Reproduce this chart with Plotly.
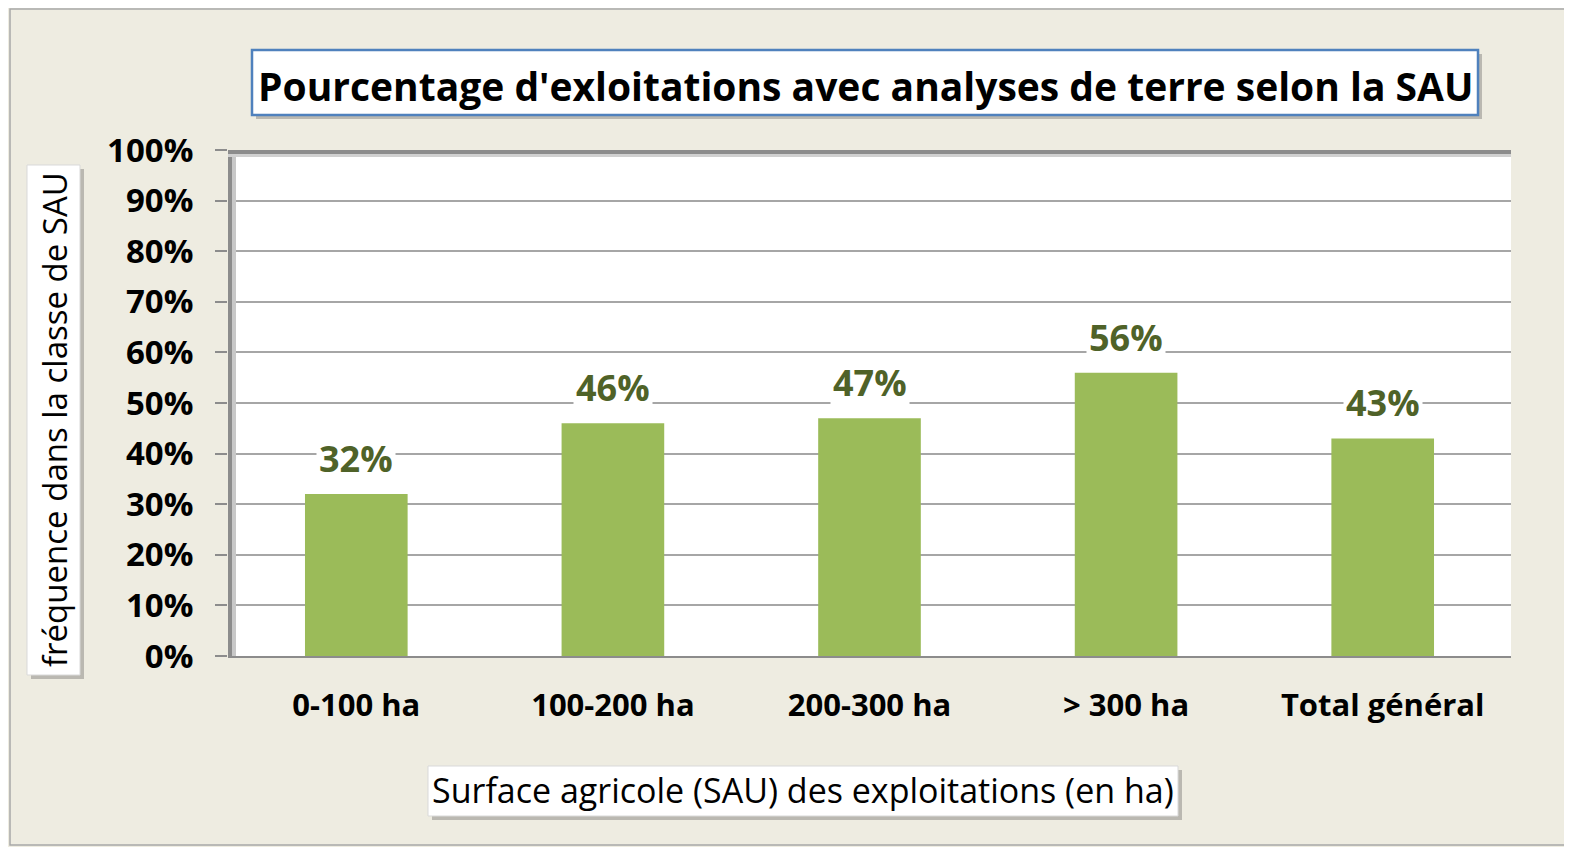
import plotly.graph_objects as go

categories = ["0-100 ha", "100-200 ha", "200-300 ha", "> 300 ha", "Total général"]
values = [32, 46, 47, 56, 43]
labels = ["32%", "46%", "47%", "56%", "43%"]

# page body has an 8px margin; work in figure pixels (screen - 8)
OFF = 8
W, H = 1562, 839
L, R, T, B = 228 - OFF, 1511 - OFF, 150 - OFF, 656 - OFF


def fx(px):
    return (px - OFF - L) / (R - L)


def fy(py):
    return (B - (py - OFF)) / (B - T)


FONT = "Open Sans"
fig = go.Figure()
fig.add_trace(go.Bar(x=categories, y=values, width=0.4, marker=dict(color="#9BBB59", line=dict(width=0)),
                     hoverinfo="skip"))

shapes = []
# outer border
shapes.append(dict(type="rect", xref="paper", yref="paper", x0=fx(10), x1=fx(1567), y0=fy(9), y1=fy(845),
                   line=dict(color="#A8A8A8", width=1.5), fillcolor="rgba(0,0,0,0)", layer="below"))


def box(x0, y0, x1, y1, border=None):
    shapes.append(dict(type="rect", xref="paper", yref="paper", x0=fx(x0 + 4), x1=fx(x1 + 4), y0=fy(y0 + 4),
                       y1=fy(y1 + 4), line=dict(width=0), fillcolor="rgba(90,90,90,0.35)", layer="above"))
    shapes.append(dict(type="rect", xref="paper", yref="paper", x0=fx(x0), x1=fx(x1), y0=fy(y0), y1=fy(y1),
                       line=dict(color=border if border else "#D9D9D9", width=2.5 if border else 1),
                       fillcolor="white", layer="above"))


box(252, 50, 1478, 115, "#4F81BD")
box(27, 165, 80, 675)
box(428, 766, 1178, 816)

# 3D wall effects: left wall and top shadow
shapes.append(dict(type="rect", xref="paper", yref="paper", x0=fx(228), x1=fx(232), y0=0, y1=1,
                   line=dict(width=0), fillcolor="#8C8C8C", layer="above"))
shapes.append(dict(type="rect", xref="paper", yref="paper", x0=fx(232), x1=fx(236), y0=0, y1=1,
                   line=dict(width=0), fillcolor="#C8C8C8", layer="above"))
shapes.append(dict(type="rect", xref="paper", yref="paper", x0=0, x1=1, y0=fy(154), y1=1,
                   line=dict(width=0), fillcolor="#8C8C8C", layer="above"))
shapes.append(dict(type="rect", xref="paper", yref="paper", x0=0, x1=1, y0=fy(157), y1=fy(154),
                   line=dict(width=0), fillcolor="#D0D0D0", layer="above"))

annotations = [
    dict(text="Pourcentage d'exloitations avec analyses de terre selon la SAU", xref="paper", yref="paper",
         x=fx(865), y=fy(85), showarrow=False, xanchor="center", yanchor="middle",
         font=dict(family=FONT, size=39, color="black", weight="bold")),
    dict(text="fréquence dans la classe de SAU", xref="paper", yref="paper", x=fx(54), y=fy(420),
         showarrow=False, textangle=-90, xanchor="center", yanchor="middle",
         font=dict(family=FONT, size=33, color="black", weight=500)),
    dict(text="Surface agricole (SAU) des exploitations (en ha)", xref="paper", yref="paper",
         x=fx(803), y=fy(790), showarrow=False, xanchor="center", yanchor="middle",
         font=dict(family=FONT, size=34, color="black")),
]
for c, v, t in zip(categories, values, labels):
    annotations.append(dict(x=c, y=v, text=t, showarrow=False, yanchor="bottom", yshift=8,
                            bgcolor="white", borderpad=2,
                            font=dict(family=FONT, size=36, color="#4F6228", weight="bold")))

fig.update_layout(
    width=W, height=H,
    margin=dict(l=L, r=W - R, t=T, b=H - B, pad=0),
    paper_bgcolor="#EEECE1", plot_bgcolor="white",
    showlegend=False, bargap=0.6,
    shapes=shapes, annotations=annotations,
    xaxis=dict(type="category", showgrid=False, showline=True, linecolor="#8C8C8C", linewidth=1.5,
               ticks="outside", ticklen=21, tickcolor="rgba(0,0,0,0)",
               tickfont=dict(family=FONT, size=31, color="black", weight="bold"), fixedrange=True),
    yaxis=dict(range=[0, 100], dtick=10, ticksuffix="%", showgrid=True, gridcolor="#A6A6A6", gridwidth=1.5,
               zeroline=False, showline=False, ticks="outside", ticklen=12, tickcolor="#8C8C8C", tickwidth=1.5,
               ticklabelstandoff=15,
               tickfont=dict(family=FONT, size=33, color="black", weight="bold"), fixedrange=True),
)

fig.write_html("out.html")
